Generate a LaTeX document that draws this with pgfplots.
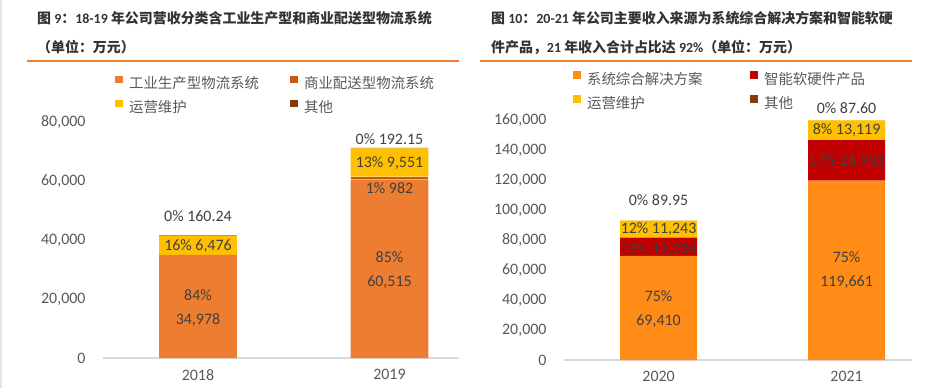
\documentclass[border=0pt]{standalone}
\usepackage{pgfplots}
\pgfplotsset{compat=1.18}
\usepackage{fontspec}
\setmainfont{Carlito}
\newfontfamily\cjk{Noto Sans CJK SC}
\definecolor{cInd}{HTML}{ED7D31}
\definecolor{cCom}{HTML}{C55A11}
\definecolor{cOps}{HTML}{FFC000}
\definecolor{cOth}{HTML}{843C0C}
\definecolor{cSys}{HTML}{FF8C16}
\definecolor{cSmt}{HTML}{C00000}
\definecolor{cLine}{HTML}{ED7D31}
\definecolor{axisgray}{HTML}{D9D9D9}
\definecolor{tickgray}{HTML}{595959}
\definecolor{lblgray}{HTML}{404040}
\definecolor{titlegray}{HTML}{333333}
\tikzset{lbl/.style={font=\fontsize{16}{24}\selectfont, text=lblgray, align=center, inner sep=0pt}}
\pgfplotsset{
  mybase/.style={
    scale only axis, ybar stacked, clip=false,
    ymin=0, xtick={0,1},
    axis x line*=bottom, axis y line*=left,
    x axis line style={draw=axisgray, line width=1.5bp},
    y axis line style={draw=none},
    tick style={draw=none},
    scaled y ticks=false,
    /pgf/number format/.cd, 1000 sep={,}, fixed, assume math mode=true,
    /pgfplots/.cd,
    ticklabel style={font=\fontsize{16}{18}\selectfont, text=tickgray},
    yticklabel style={xshift=-14bp},
    xticklabel style={yshift=-8bp},
    legend columns=2,
    legend style={draw=none, fill=none, anchor=north west, inner sep=0pt, outer sep=0pt,
      font=\cjk\fontsize{14.5}{16}\selectfont, text=tickgray,
      column sep=0pt, row sep=8bp,
      nodes={inner sep=0pt, text height=11bp, text depth=3bp}},
    legend cell align=left,
    legend image code/.code={\fill[##1] (0bp,1.5bp) rectangle (7.5bp,9bp);},
  },
}
\begin{document}
\begin{tikzpicture}[x=1bp,y=1bp]
\path[use as bounding box] (0,0) rectangle (928,388);
\draw[draw=axisgray!70, line width=1.5bp] (1,0) -- (1,388);
% titles
\node[anchor=base west, inner sep=0pt, text=titlegray, font=\fontsize{14}{16}\selectfont\bfseries] at (37,365)
  {{\cjk 图} 9{\cjk ：}18-19 {\cjk 年公司营收分类含工业生产型和商业配送型物流系统}};
\node[anchor=base west, inner sep=0pt, text=titlegray, font=\fontsize{14}{16}\selectfont\bfseries] at (37,336)
  {{\cjk （单位：万元）}};
\node[anchor=base west, inner sep=0pt, text=titlegray, font=\fontsize{14}{16}\selectfont\bfseries] at (491,365)
  {{\cjk 图} 10{\cjk ：}20-21 {\cjk 年公司主要收入来源为系统综合解决方案和智能软硬}};
\node[anchor=base west, inner sep=0pt, text=titlegray, font=\fontsize{14}{16}\selectfont\bfseries] at (491,336)
  {{\cjk 件产品，}21 {\cjk 年收入合计占比达} 92\%{\cjk （单位：万元）}};
\draw[cLine, line width=1.2bp] (27,327) -- (459,327);
\draw[cLine, line width=1.2bp] (480,327) -- (912,327);

% left chart
\begin{axis}[mybase,
  at={(103bp,30bp)}, anchor=south west, width=356bp, height=236bp,
  bar width=0.407, xmin=-0.496, xmax=1.363, ymax=80000,
  xticklabels={2018,2019}, ytick={0,20000,40000,60000,80000},
  legend style={at={(0.034,1.195)}},
  after end axis/.code={
    \node[lbl] at (axis cs:0,16983) {84\%\\34,978};
    \node[lbl] at (axis cs:0,37966) {16\% 6,476};
    \node[lbl] at (axis cs:0,48136) {0\% 160.24};
    \node[lbl] at (axis cs:1,29830) {85\%\\60,515};
    \node[lbl] at (axis cs:1,57627) {1\% 982};
    \node[lbl] at (axis cs:1,66100) {13\% 9,551};
    \node[lbl] at (axis cs:1,74237) {0\% 192.15};
  },
]
\addplot[fill=cInd, draw=none] coordinates {(0,34978) (1,60515)};
\addlegendentry{\hspace*{6.5bp}\makebox[161bp][l]{工业生产型物流系统}}
\addplot[fill=cCom, draw=none] coordinates {(0,0) (1,982)};
\addlegendentry{\hspace*{6.5bp}\makebox[161bp][l]{商业配送型物流系统}}
\addplot[fill=cOps, draw=none] coordinates {(0,6476) (1,9551)};
\addlegendentry{\hspace*{6.5bp}\makebox[161bp][l]{运营维护}}
\addplot[fill=cOth, draw=none] coordinates {(0,160.24) (1,192.15)};
\addlegendentry{\hspace*{6.5bp}\makebox[161bp][l]{其他}}
\end{axis}

% right chart
\begin{axis}[mybase,
  at={(564bp,28bp)}, anchor=south west, width=348bp, height=240bp,
  bar width=0.41, xmin=-0.503, xmax=1.348, ymax=160000,
  xticklabels={2020,2021}, ytick={0,20000,40000,60000,80000,100000,120000,140000,160000},
  legend style={at={(0.026,1.204)}},
  after end axis/.code={
    \node[lbl] at (axis cs:0,33667) {75\%\\69,410};
    \node[lbl] at (axis cs:0,73333) {13\% 12,234};
    \node[lbl] at (axis cs:0,87333) {12\% 11,243};
    \node[lbl] at (axis cs:0,106667) {0\% 89.95};
    \node[lbl] at (axis cs:1,59667) {75\%\\119,661};
    \node[lbl] at (axis cs:1,132667) {17\% 26,932};
    \node[lbl] at (axis cs:1,153333) {8\% 13,119};
    \node[lbl] at (axis cs:1,168000) {0\% 87.60};
  },
]
\addplot[fill=cSys, draw=none] coordinates {(0,69410) (1,119661)};
\addlegendentry{\hspace*{6.5bp}\makebox[163bp][l]{系统综合解决方案}}
\addplot[fill=cSmt, draw=none] coordinates {(0,12234) (1,26932)};
\addlegendentry{\hspace*{6.5bp}\makebox[163bp][l]{智能软硬件产品}}
\addplot[fill=cOps, draw=none] coordinates {(0,11243) (1,13119)};
\addlegendentry{\hspace*{6.5bp}\makebox[163bp][l]{运营维护}}
\addplot[fill=cOth, draw=none] coordinates {(0,89.95) (1,87.60)};
\addlegendentry{\hspace*{6.5bp}\makebox[163bp][l]{其他}}
\end{axis}
\end{tikzpicture}
\end{document}
